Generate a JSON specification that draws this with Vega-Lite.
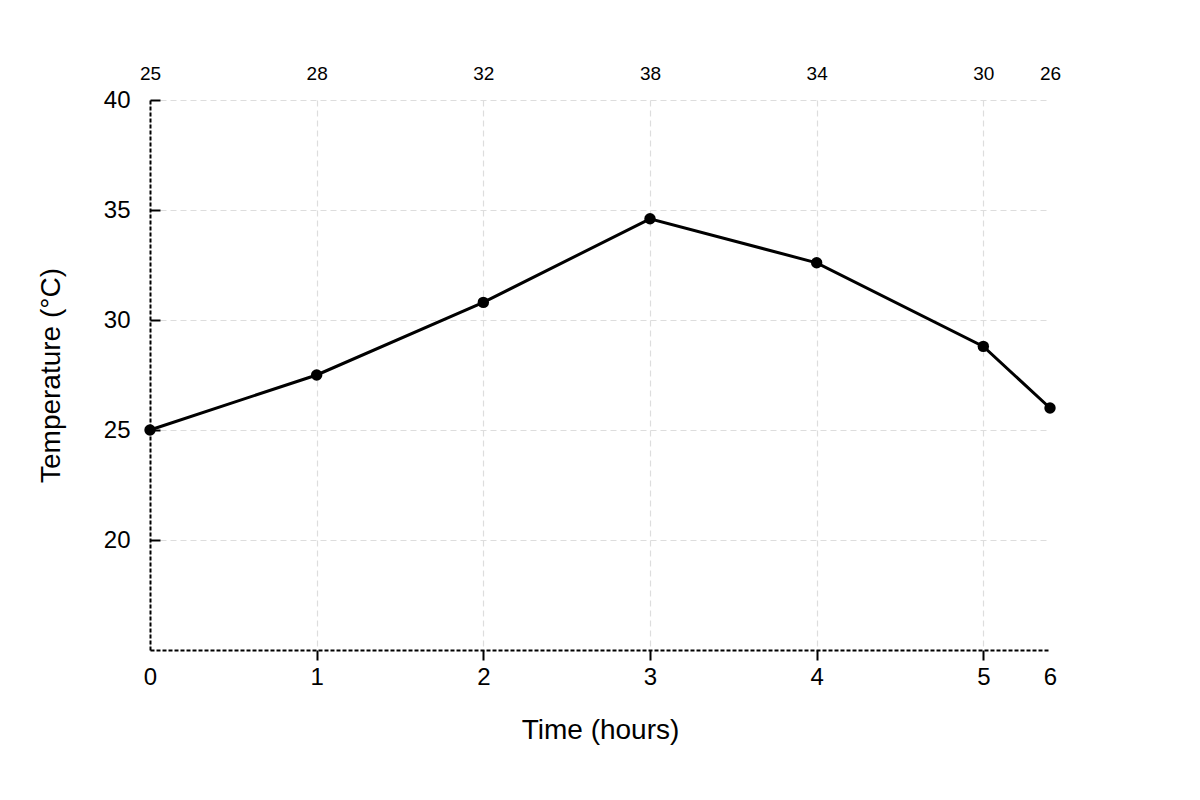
{
  "$schema": "https://vega.github.io/schema/vega-lite/v6.json",
  "autosize": "none",
  "padding": {"left": 150, "top": 100, "right": 150, "bottom": 150},
  "width": 900,
  "height": 550,
  "background": "white",
  "config": {
    "view": {"stroke": null},
    "font": "Liberation Sans"
  },
  "data": {
    "values": [
      {"hour": 0, "temp": 25.0},
      {"hour": 1, "temp": 27.5},
      {"hour": 2, "temp": 30.8},
      {"hour": 3, "temp": 34.6},
      {"hour": 4, "temp": 32.6},
      {"hour": 5, "temp": 28.8},
      {"hour": 6, "temp": 26.0}
    ]
  },
  "layer": [
    {
      "mark": {"type": "line", "color": "black", "strokeWidth": 3},
      "encoding": {
        "x": {
          "field": "hour", "type": "quantitative",
          "scale": {"domain": [0, 5, 6], "range": [0, 833.33, 900]},
          "axis": {
            "orient": "bottom",
            "values": [0, 1, 2, 3, 4, 5, 6],
            "title": "Time (hours)",
            "titleFontSize": 28, "titleFontWeight": "normal", "titleColor": "black",
            "titlePadding": 27,
            "labelFontSize": 24, "labelColor": "black", "labelPadding": 5,
            "labelFlush": false,
            "domainColor": "black", "domainDash": [4, 2], "domainWidth": 2,
            "tickColor": "black", "tickSize": 10, "tickWidth": 2,
            "tickOpacity": {"condition": {"test": "datum.value == 0 || datum.value == 6", "value": 0}, "value": 1},
            "grid": true, "gridColor": "#dddddd", "gridDash": [6, 4], "gridWidth": 1.2,
            "gridOpacity": {"condition": {"test": "datum.value == 6", "value": 0}, "value": 1}
          }
        },
        "y": {
          "field": "temp", "type": "quantitative",
          "scale": {"domain": [15, 40], "nice": false, "zero": false},
          "axis": {
            "values": [20, 25, 30, 35, 40],
            "title": "Temperature (°C)",
            "titleFontSize": 28, "titleFontWeight": "normal", "titleColor": "black",
            "titlePadding": 38,
            "labelFontSize": 24, "labelColor": "black", "labelPadding": 30,
            "labelFlush": false,
            "domainColor": "black", "domainDash": [4, 2], "domainWidth": 2,
            "tickColor": "black", "tickSize": -10, "tickWidth": 2,
            "grid": true, "gridColor": "#dddddd", "gridDash": [6, 4], "gridWidth": 1.2
          }
        }
      }
    },
    {
      "mark": {"type": "point", "filled": true, "color": "black", "size": 130, "opacity": 1},
      "encoding": {
        "x": {
          "field": "hour", "type": "quantitative",
          "axis": {
            "orient": "top",
            "values": [0, 1, 2, 3, 4, 5, 6],
            "labelExpr": "['25','28','32','38','34','30','26'][datum.value]",
            "title": null,
            "domain": false, "ticks": false, "grid": false,
            "labelFontSize": 19, "labelColor": "black", "labelPadding": 17,
            "labelFlush": false
          }
        },
        "y": {"field": "temp", "type": "quantitative"}
      }
    }
  ]
}
